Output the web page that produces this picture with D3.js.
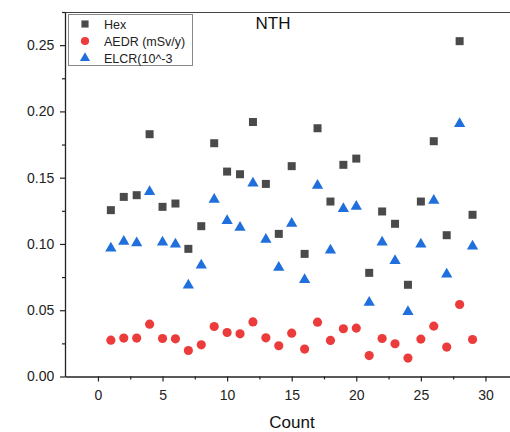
<!DOCTYPE html>
<html><head><meta charset="utf-8">
<script src="https://cdn.jsdelivr.net/npm/d3@7"></script>
<style>body{margin:0;background:#fff}svg{display:block}text{font-family:"Liberation Sans",Arial,sans-serif}</style>
</head><body><svg id="c" width="510" height="432"></svg>
<script>
const counts = d3.range(1, 30);
const hex = [0.1255,0.1355,0.1368,0.1828,0.128,0.1305,0.0963,0.1134,0.176,0.1546,0.1526,0.192,0.1453,0.1076,0.1587,0.0925,0.1873,0.132,0.1597,0.1644,0.0782,0.1245,0.1152,0.0692,0.132,0.1775,0.1066,0.253,0.122];
const aedr = [0.0274,0.029,0.029,0.0395,0.0287,0.0284,0.0196,0.0239,0.0377,0.0332,0.0322,0.0412,0.0292,0.0232,0.0327,0.0207,0.041,0.0272,0.036,0.0365,0.0158,0.0287,0.0247,0.0139,0.0282,0.038,0.0222,0.0543,0.0279];
const elcr = [0.098,0.103,0.102,0.1406,0.1026,0.101,0.070,0.0852,0.1348,0.1187,0.1136,0.147,0.1046,0.0835,0.1167,0.0742,0.1453,0.0965,0.1277,0.1295,0.057,0.1026,0.0885,0.050,0.101,0.134,0.0784,0.192,0.0995];
const seriesNames = ["Hex","AEDR (mSv/y)","ELCR(10^-3"];
const xTicks = [0,5,10,15,20,25,30];
const yTicks = [0,0.05,0.10,0.15,0.20,0.25];

const svg = d3.select("#c");
const x = d3.scaleLinear().domain([-2.55, 31.9]).range([65, 510]);
const y = d3.scaleLinear().domain([0, 0.275]).range([376.5, 12]);

svg.append("line").attr("x1",65).attr("x2",510).attr("y1",12.5).attr("y2",12.5).attr("stroke","#444").attr("stroke-width",1.2);

const xAxis = svg.append("g").attr("transform","translate(0,376.5)")
  .call(d3.axisBottom(x).tickValues(xTicks).tickFormat(d3.format("d")).tickSize(5).tickSizeOuter(0));
const xMinor = svg.append("g").attr("transform","translate(0,376.5)")
  .call(d3.axisBottom(x).tickValues(xTicks.map(d=>d+2.5).filter(d=>d<31.9)).tickFormat("").tickSize(3).tickSizeOuter(0));
xMinor.select(".domain").remove();
const yAxis = svg.append("g").attr("transform","translate(65,0)")
  .call(d3.axisLeft(y).tickValues(yTicks).tickFormat(d3.format(".2f")).tickSize(5).tickSizeOuter(0));
const yMinor = svg.append("g").attr("transform","translate(65,0)")
  .call(d3.axisLeft(y).tickValues(yTicks.map(d=>d+0.025)).tickFormat("").tickSize(3).tickSizeOuter(0));
yMinor.select(".domain").remove();
svg.selectAll(".domain").attr("stroke","#222").attr("stroke-width",1.3);
svg.selectAll(".tick line").attr("stroke","#222").attr("stroke-width",1.2);
xAxis.selectAll("text").attr("font-size",14).attr("fill","#222").attr("dy","1.1em");
yAxis.selectAll("text").attr("font-size",14).attr("fill","#222").attr("dx","-0.2em");
svg.selectAll(".tick text").style("font-family","'Liberation Sans',Arial,sans-serif");

svg.append("text").attr("x",292).attr("y",428).attr("text-anchor","middle").attr("font-size",17).attr("fill","#111").text("Count");
svg.append("text").attr("x",273).attr("y",29).attr("text-anchor","middle").attr("font-size",17).attr("fill","#111").text("NTH");

const colors = ["#4a4a4a","#ec3b3b","#1f6fdc"];
const symbols = [d3.symbolSquare, d3.symbolCircle, d3.symbolTriangle];
const sizes = [64, 66, 55];
const data = [hex, aedr, elcr];
// vertical shift so the triangle's bounding box (not centroid) sits on the value
const triH = Math.sqrt(4*55/Math.sqrt(3)) * Math.sqrt(3)/2;
const yOff = [0, 0, triH/6];

data.forEach((vals, i) => {
  svg.append("g").selectAll("path").data(vals).join("path")
    .attr("transform",(d,j)=>`translate(${x(counts[j])},${y(d)+yOff[i]})`)
    .attr("d", d3.symbol().type(symbols[i]).size(sizes[i]))
    .attr("fill", colors[i]);
});

const lg = svg.append("g");
lg.append("rect").attr("x",68.5).attr("y",14.5).attr("width",124).attr("height",51).attr("fill","#fff").attr("stroke","#888").attr("stroke-width",1);
const ly = [24, 41, 58];
seriesNames.forEach((n,i)=>{
  lg.append("path").attr("transform",`translate(85,${ly[i]})`).attr("d", d3.symbol().type(symbols[i]).size(sizes[i]*0.8)).attr("fill",colors[i]);
  lg.append("text").attr("x",104).attr("y",ly[i]+4.5).attr("font-size",12.5).attr("fill","#222").text(n);
});
</script></body></html>
